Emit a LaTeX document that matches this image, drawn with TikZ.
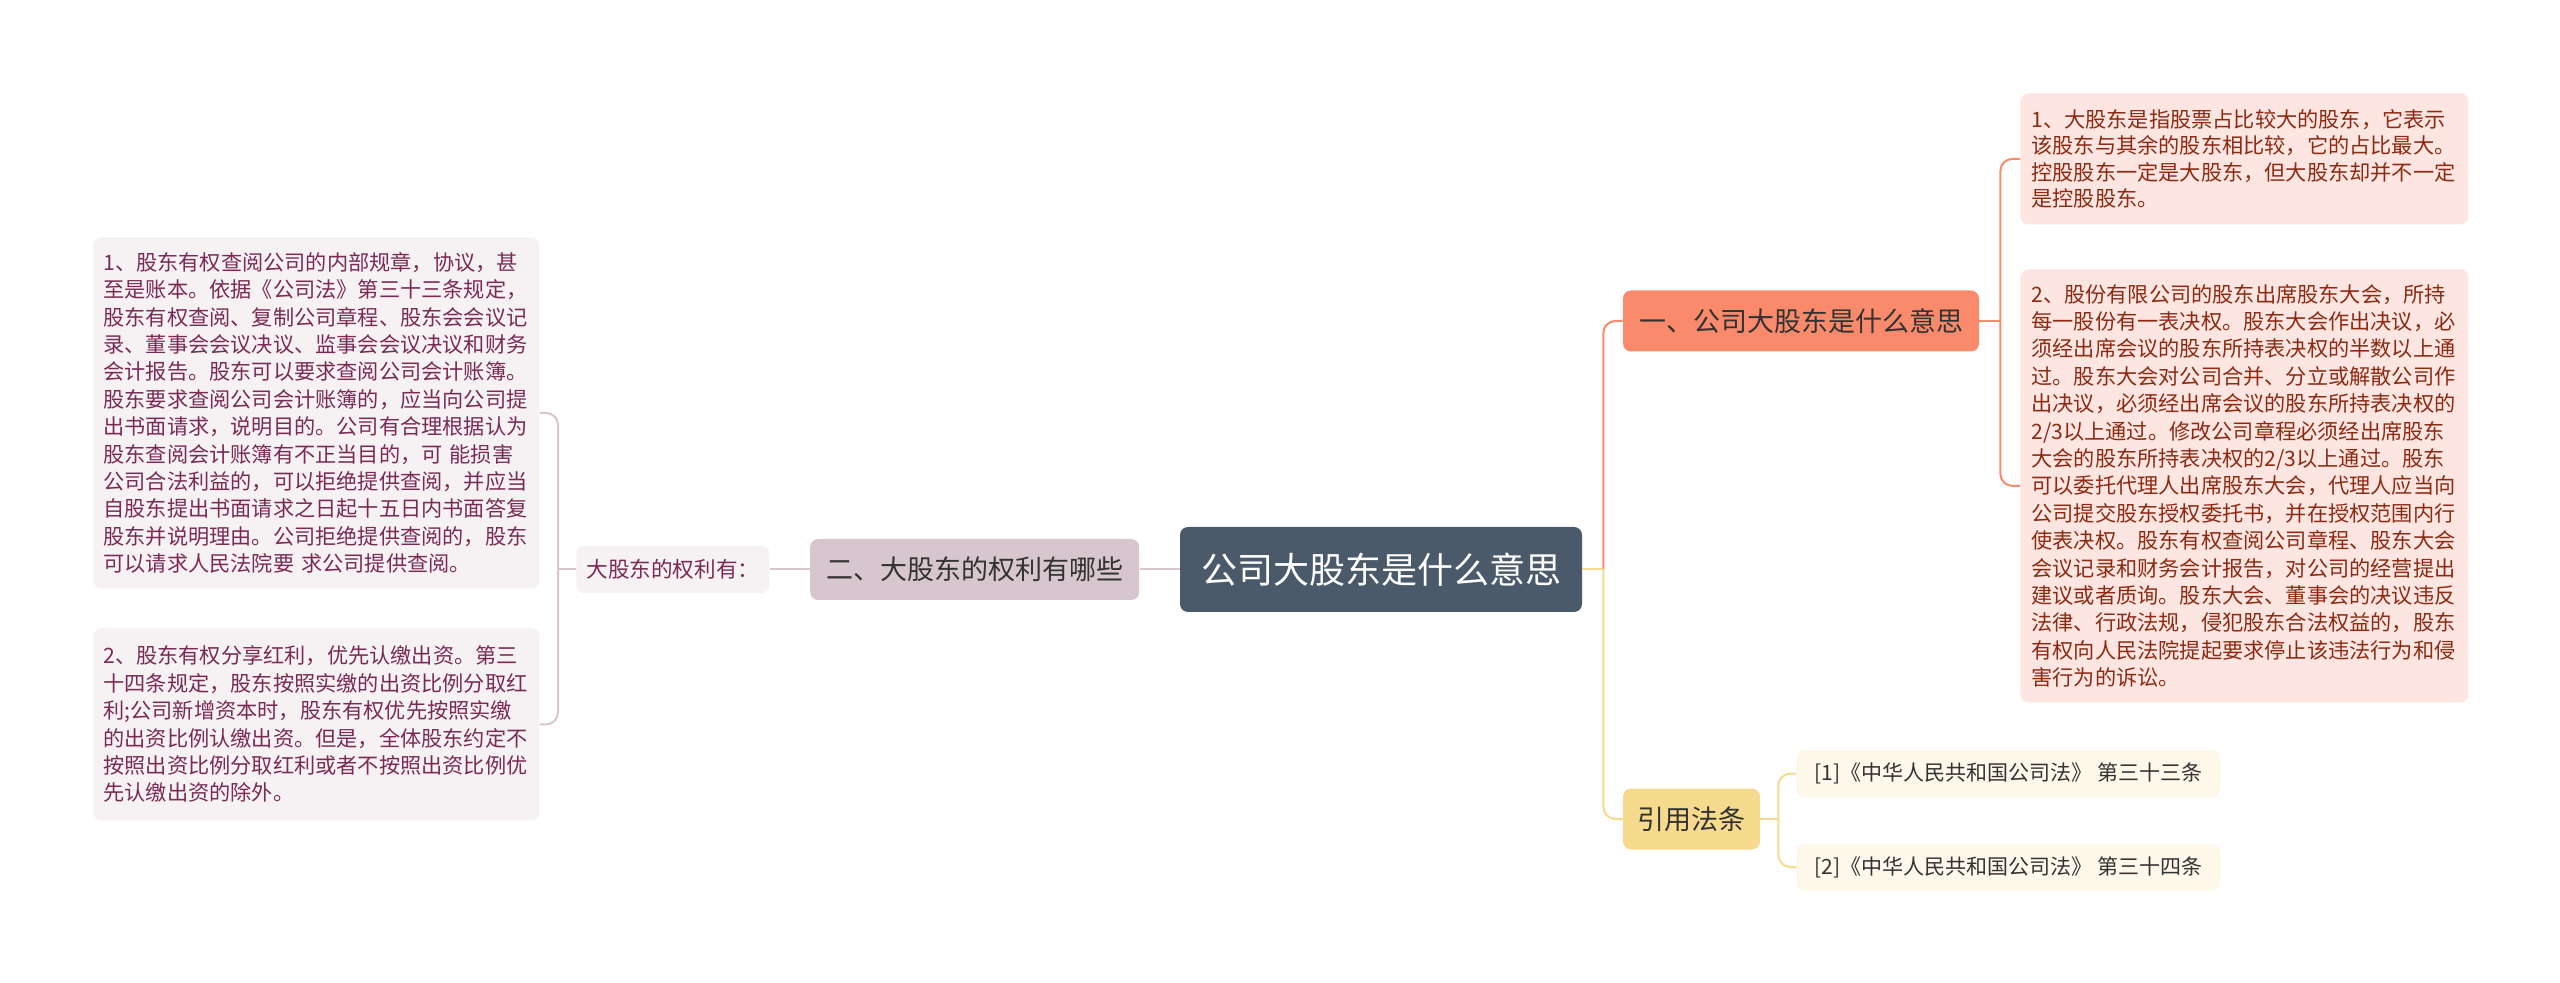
\documentclass[tikz,border=0pt]{standalone}
\usepackage{fontspec}
\setmainfont{Noto Sans CJK SC}
\usepackage{xcolor}
\usetikzlibrary{positioning}

\definecolor{rootfill}{HTML}{4A5A6A}
\definecolor{mauve}{HTML}{D8C6CE}
\definecolor{mauvelt}{HTML}{F6F1F3}
\definecolor{plum}{HTML}{7A2B55}
\definecolor{salmon}{HTML}{F98B6C}
\definecolor{pinklt}{HTML}{FDE5E1}
\definecolor{brick}{HTML}{8C2A12}
\definecolor{gold}{HTML}{F6DB8F}
\definecolor{goldlt}{HTML}{FDF8EA}
\definecolor{ink}{HTML}{333333}

\begin{document}
\begin{tikzpicture}[x=0.5pt,y=-0.5pt,
  node distance=20pt,
  root/.style={fill=rootfill,text=white,rounded corners=4pt,font=\fontsize{18}{22}\selectfont,minimum width=201pt,minimum height=42.5pt,inner sep=0pt},
  br/.style={rounded corners=4pt,text=ink,font=\fontsize{13.5}{16}\selectfont,minimum height=30.5pt,inner sep=0pt},
  leafL/.style={fill=mauvelt,text=plum,rounded corners=4pt,align=left,font=\fontsize{10.6}{13.7}\selectfont,text width=213pt,inner xsep=5pt,inner ysep=0pt,anchor=north west},
  leafR/.style={fill=pinklt,text=brick,rounded corners=4pt,align=left,font=\fontsize{10.6}{13.3}\selectfont,text width=213pt,inner xsep=5.5pt,inner ysep=0pt,anchor=north west},
  cite/.style={fill=goldlt,text=ink,rounded corners=4pt,font=\fontsize{10.5}{12}\selectfont,minimum width=212pt,minimum height=23.5pt,inner sep=0pt,anchor=west},
  lnkL/.style={draw=mauve,line width=1pt,rounded corners=6pt},
  lnkR/.style={draw=salmon,line width=1pt,rounded corners=6pt},
  lnkY/.style={draw=gold,line width=1pt,rounded corners=6pt}]
\useasboundingbox[fill=white] (0,0) rectangle (2560,983);

% centre and left side
\node[root] (root) at (1381,569.5) {公司大股东是什么意思};
\node[br,fill=mauve,minimum width=164.5pt,left=of root] (br2) {二、大股东的权利有哪些};
\node[fill=mauvelt,text=plum,rounded corners=4pt,font=\fontsize{10.8}{13}\selectfont,minimum width=96.5pt,minimum height=23.5pt,inner sep=0pt,left=of br2] (lbl) {大股东的权利有：};
\node[leafL,minimum height=175.5pt] (l1) at (93,237) {1、股东有权查阅公司的内部规章，协议，甚\\至是账本。依据《公司法》第三十三条规定，\\股东有权查阅、复制公司章程、股东会会议记\\录、董事会会议决议、监事会会议决议和财务\\会计报告。股东可以要求查阅公司会计账簿。\\股东要求查阅公司会计账簿的，应当向公司提\\出书面请求，说明目的。公司有合理根据认为\\股东查阅会计账簿有不正当目的，可 能损害\\公司合法利益的，可以拒绝提供查阅，并应当\\自股东提出书面请求之日起十五日内书面答复\\股东并说明理由。公司拒绝提供查阅的，股东\\可以请求人民法院要 求公司提供查阅。};
\node[leafL,minimum height=96pt] (l2) at (93,628) {2、股东有权分享红利，优先认缴出资。第三\\十四条规定，股东按照实缴的出资比例分取红\\利;公司新增资本时，股东有权优先按照实缴\\的出资比例认缴出资。但是，全体股东约定不\\按照出资比例分取红利或者不按照出资比例优\\先认缴出资的除外。};

% right side
\node[br,fill=salmon,minimum width=178pt] (br1) at (1801,321) {一、公司大股东是什么意思};
\node[leafR,minimum height=65.5pt] (r1) at (2020,93) {1、大股东是指股票占比较大的股东，它表示\\该股东与其余的股东相比较，它的占比最大。\\控股股东一定是大股东，但大股东却并不一定\\是控股股东。};
\node[leafR,minimum height=216.5pt,font=\fontsize{10.6}{13.7}\selectfont] (r2) at (2020,269) {2、股份有限公司的股东出席股东大会，所持\\每一股份有一表决权。股东大会作出决议，必\\须经出席会议的股东所持表决权的半数以上通\\过。股东大会对公司合并、分立或解散公司作\\出决议，必须经出席会议的股东所持表决权的\\2/3以上通过。修改公司章程必须经出席股东\\大会的股东所持表决权的2/3以上通过。股东\\可以委托代理人出席股东大会，代理人应当向\\公司提交股东授权委托书，并在授权范围内行\\使表决权。股东有权查阅公司章程、股东大会\\会议记录和财务会计报告，对公司的经营提出\\建议或者质询。股东大会、董事会的决议违反\\法律、行政法规，侵犯股东合法权益的，股东\\有权向人民法院提起要求停止该违法行为和侵\\害行为的诉讼。};
\node[br,fill=gold,minimum width=68.5pt] (br3) at (1691.5,819) {引用法条};
\node[cite] (f1) at (1796,773.5) {[1]《中华人民共和国公司法》 第三十三条};
\node[cite] (f2) at (1796,867) {[2]《中华人民共和国公司法》 第三十四条};

\draw[lnkL] (root) -- (br2);
\draw[lnkL] (br2) -- (lbl);
\draw[lnkL] (lbl.west) -- ++(-18,0);
\draw[lnkL] (lbl.west) ++(-18,0) |- (l1.east);
\draw[lnkL] (lbl.west) ++(-18,0) |- (l2.east);
\draw[lnkR] (root.east) ++(21,0) |- (br1.west);
\draw[lnkY] (root.east) ++(21,0) |- (br3.west);
\draw[lnkY] (root.east) -- ++(21,0);
\draw[lnkR] (br1.east) -- ++(21,0);
\draw[lnkR] (br1.east) ++(21,0) |- (r1.west);
\draw[lnkR] (br1.east) ++(21,0) |- (r2.west);
\draw[lnkY] (br3.east) -- ++(18,0);
\draw[lnkY] (br3.east) ++(18,0) |- (f1.west);
\draw[lnkY] (br3.east) ++(18,0) |- (f2.west);
\end{tikzpicture}
\end{document}
